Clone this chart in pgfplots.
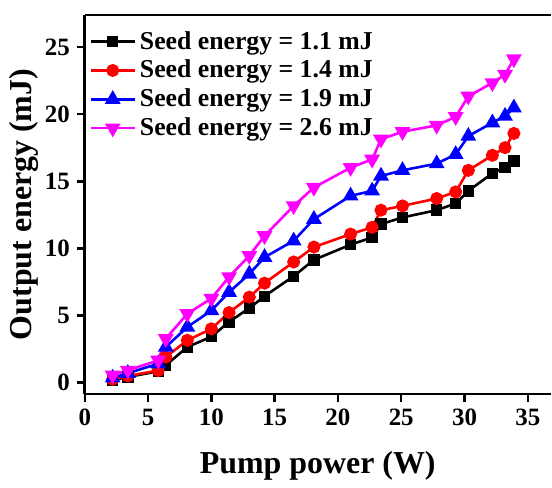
\documentclass[border=0pt]{standalone}
\usepackage{fontspec}
\setmainfont{Liberation Serif}
\usepackage{pgfplots}
\pgfplotsset{compat=1.18}
\definecolor{cmag}{RGB}{255,0,255}
\begin{document}
\begin{tikzpicture}
\begin{axis}[
  name=ax,
  scale only axis,
  width=233.5pt, height=190pt,
  xmin=0, xmax=36.8, ymin=-0.85, ymax=27.4,
  axis x line*=box, axis y line*=left,
  axis line style={-, line width=1.4pt},
  xtick={0,5,...,35}, ytick={0,5,...,25},
  xtick pos=bottom, ytick pos=left,
  tick align=outside, major tick length=4pt,
  every tick/.style={line width=1.2pt, black},
  tick label style={font=\fontsize{12.5}{14}\selectfont\bfseries},
  /pgf/number format/assume math mode=true,
  xlabel={Pump power (W)}, ylabel={Output energy (mJ)},
  label style={font=\fontsize{16}{18}\selectfont\bfseries},
  xlabel style={yshift=-6pt},
  ylabel style={yshift=-3.5pt},
  legend style={draw=none, fill=none, at={(rel axis cs:0.005,0.974)}, anchor=north west,
    font=\fontsize{12.9}{15.1}\selectfont\bfseries, row sep=0pt, inner sep=1pt},
  legend cell align=left,
  legend image code/.code={\draw[mark repeat=2,mark phase=2] plot coordinates {(0pt,0pt)(11pt,0pt)(22pt,0pt)};},
  every axis plot/.append style={line width=1.3pt},
]
\addplot[black, mark=square*, mark size=2.2pt, mark options={solid}] coordinates {
(2.2,0.17)(3.4,0.42)(5.8,0.84)(6.4,1.29)(8.1,2.65)(10.0,3.42)(11.4,4.53)(13.0,5.55)(14.2,6.44)(16.5,7.93)(18.1,9.15)(21.0,10.28)(22.7,10.82)(23.4,11.81)(25.1,12.31)(27.8,12.85)(29.3,13.35)(30.3,14.29)(32.2,15.6)(33.2,16.03)(33.9,16.52)};
\addlegendentry{Seed energy = 1.1 mJ}
\addplot[red, mark=*, mark size=2.6pt] coordinates {
(2.2,0.25)(3.4,0.5)(5.8,0.9)(6.4,1.91)(8.1,3.15)(10.0,4.01)(11.4,5.22)(13.0,6.37)(14.2,7.41)(16.5,8.99)(18.1,10.1)(21.0,11.07)(22.7,11.57)(23.4,12.85)(25.1,13.17)(27.8,13.72)(29.3,14.21)(30.3,15.82)(32.2,16.94)(33.2,17.51)(33.9,18.57)};
\addlegendentry{Seed energy = 1.4 mJ}
\addplot[blue, mark=triangle*, mark size=3.3pt] coordinates {
(2.2,0.35)(3.4,0.7)(5.8,1.41)(6.4,2.65)(8.1,4.14)(10.0,5.37)(11.4,6.74)(13.0,8.1)(14.2,9.34)(16.5,10.57)(18.1,12.18)(21.0,13.92)(22.7,14.29)(23.4,15.4)(25.1,15.82)(27.8,16.32)(29.3,17.01)(30.3,18.37)(32.2,19.37)(33.2,19.86)(33.9,20.48)};
\addlegendentry{Seed energy = 1.9 mJ}
\addplot[cmag, mark=triangle*, mark size=3.3pt, mark options={rotate=180}] coordinates {
(2.2,0.55)(3.4,0.91)(5.8,1.66)(6.4,3.27)(8.1,5.13)(10.0,6.27)(11.4,7.88)(13.0,9.46)(14.2,10.94)(16.5,13.17)(18.1,14.54)(21.0,16.02)(22.7,16.64)(23.4,18.13)(25.1,18.7)(27.8,19.17)(29.3,19.81)(30.3,21.34)(32.2,22.34)(33.2,22.96)(33.9,24.12)};
\addlegendentry{Seed energy = 2.6 mJ}
\end{axis}
\path (ax.south west) ++(-42.5pt,-42pt) coordinate (bbl);
\path (ax.north east) ++(0pt,7.5pt) coordinate (btr);
\path (bbl) rectangle (btr);
\end{tikzpicture}
\end{document}
